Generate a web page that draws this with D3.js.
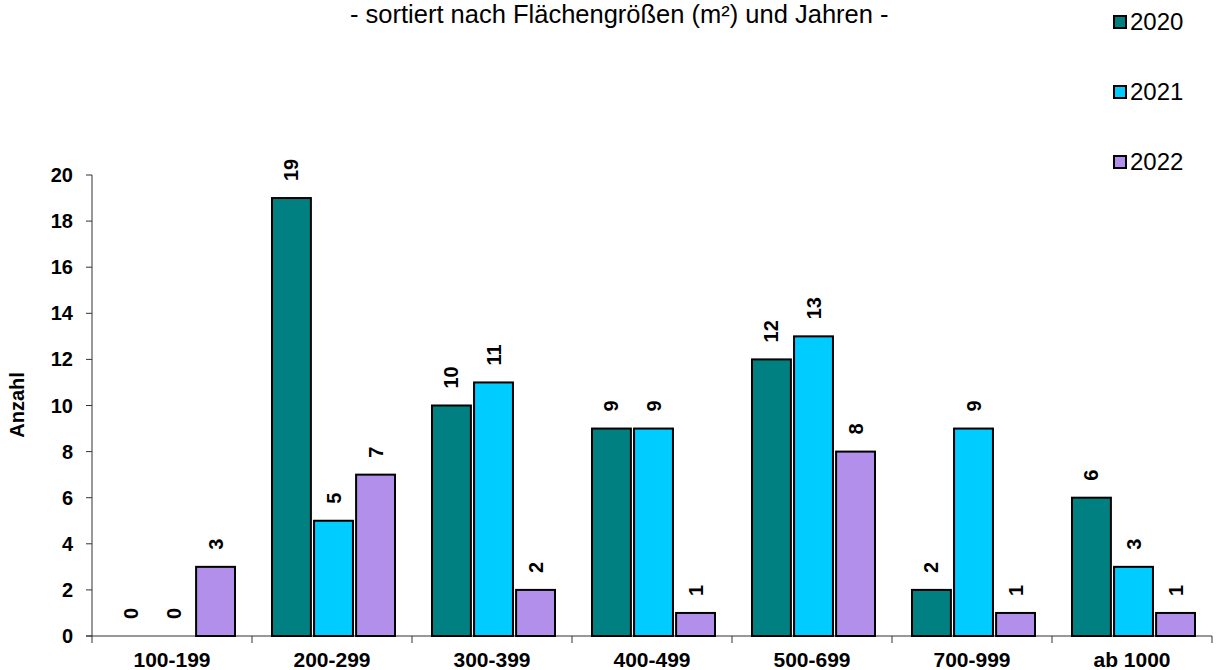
<!DOCTYPE html>
<html><head><meta charset="utf-8">
<script src="https://cdn.jsdelivr.net/npm/d3@7"></script>
<style>body{margin:0;background:#fff}svg{display:block;font-family:"Liberation Sans",Arial,sans-serif}</style>
</head><body><svg id="c" width="1216" height="670"></svg>
<script>
const categories = ["100-199","200-299","300-399","400-499","500-699","700-999","ab 1000"];
const years = ["2020","2021","2022"];
const values2020 = [0,19,10,9,12,2,6];
const values2021 = [0,5,11,9,13,9,3];
const values2022 = [3,7,2,1,8,1,1];
const yTicks = [0,2,4,6,8,10,12,14,16,18,20];
const colors = ["#008080","#00CCFF","#B28FEB"];
const series = [values2020, values2021, values2022];

const svg = d3.select("#c");
const x = d3.scaleBand().domain(categories).range([92,1212]).paddingInner(0).paddingOuter(0);
const xi = d3.scaleBand().domain(years).range([20,143]).paddingInner(0.075).paddingOuter(0);
const y = d3.scaleLinear().domain([0,20]).range([636,175]);

// title
svg.append("text").attr("x",350).attr("y",23).attr("text-anchor","start")
  .attr("font-size",25.5).text("- sortiert nach Flächengrößen (m²) und Jahren -");

// y axis
const ya = svg.append("g");
ya.append("line").attr("x1",92).attr("x2",92).attr("y1",y(20)).attr("y2",y(0)).attr("stroke","#333");
yTicks.forEach(t=>{
  ya.append("line").attr("x1",86).attr("x2",92).attr("y1",y(t)).attr("y2",y(t)).attr("stroke","#333");
  ya.append("text").attr("x",73).attr("y",y(t)).attr("dy","0.35em").attr("text-anchor","end")
    .attr("font-size",20).attr("font-weight","bold").text(t);
});
svg.append("text").attr("transform","translate(24,405) rotate(-90)").attr("text-anchor","middle")
  .attr("font-size",20).attr("font-weight","bold").text("Anzahl");

// x axis
const xa = svg.append("g");
xa.append("line").attr("x1",86).attr("x2",1212).attr("y1",y(0)).attr("y2",y(0)).attr("stroke","#333");
const bounds = categories.map(c=>x(c)).concat([x.range()[1]]);
bounds.forEach(b=>xa.append("line").attr("x1",b).attr("x2",b).attr("y1",y(0)).attr("y2",y(0)+7).attr("stroke","#333"));
categories.forEach(c=>xa.append("text").attr("x",x(c)+x.bandwidth()/2).attr("y",667).attr("text-anchor","middle")
  .attr("font-size",21).attr("font-weight","bold").text(c));

// bars
categories.forEach((c,i)=>{
  years.forEach((yr,j)=>{
    const v = series[j][i];
    const bx = x(c)+xi(yr);
    if(v>0){
      svg.append("rect").attr("x",bx).attr("y",y(v)).attr("width",xi.bandwidth()).attr("height",y(0)-y(v))
        .attr("fill",colors[j]).attr("stroke","#000").attr("stroke-width",2);
    }
    svg.append("text").attr("transform",`translate(${bx+xi.bandwidth()/2},${y(v)-17}) rotate(-90)`)
      .attr("dy","0.35em").attr("font-size",20).attr("font-weight","bold").text(v);
  });
});

// legend
years.forEach((yr,j)=>{
  const ly = 22 + j*70;
  svg.append("rect").attr("x",1114).attr("y",ly-6).attr("width",12).attr("height",12)
    .attr("fill",colors[j]).attr("stroke","#000").attr("stroke-width",2);
  svg.append("text").attr("x",1130).attr("y",ly).attr("dy","0.35em").attr("font-size",24).text(yr);
});
</script></body></html>
